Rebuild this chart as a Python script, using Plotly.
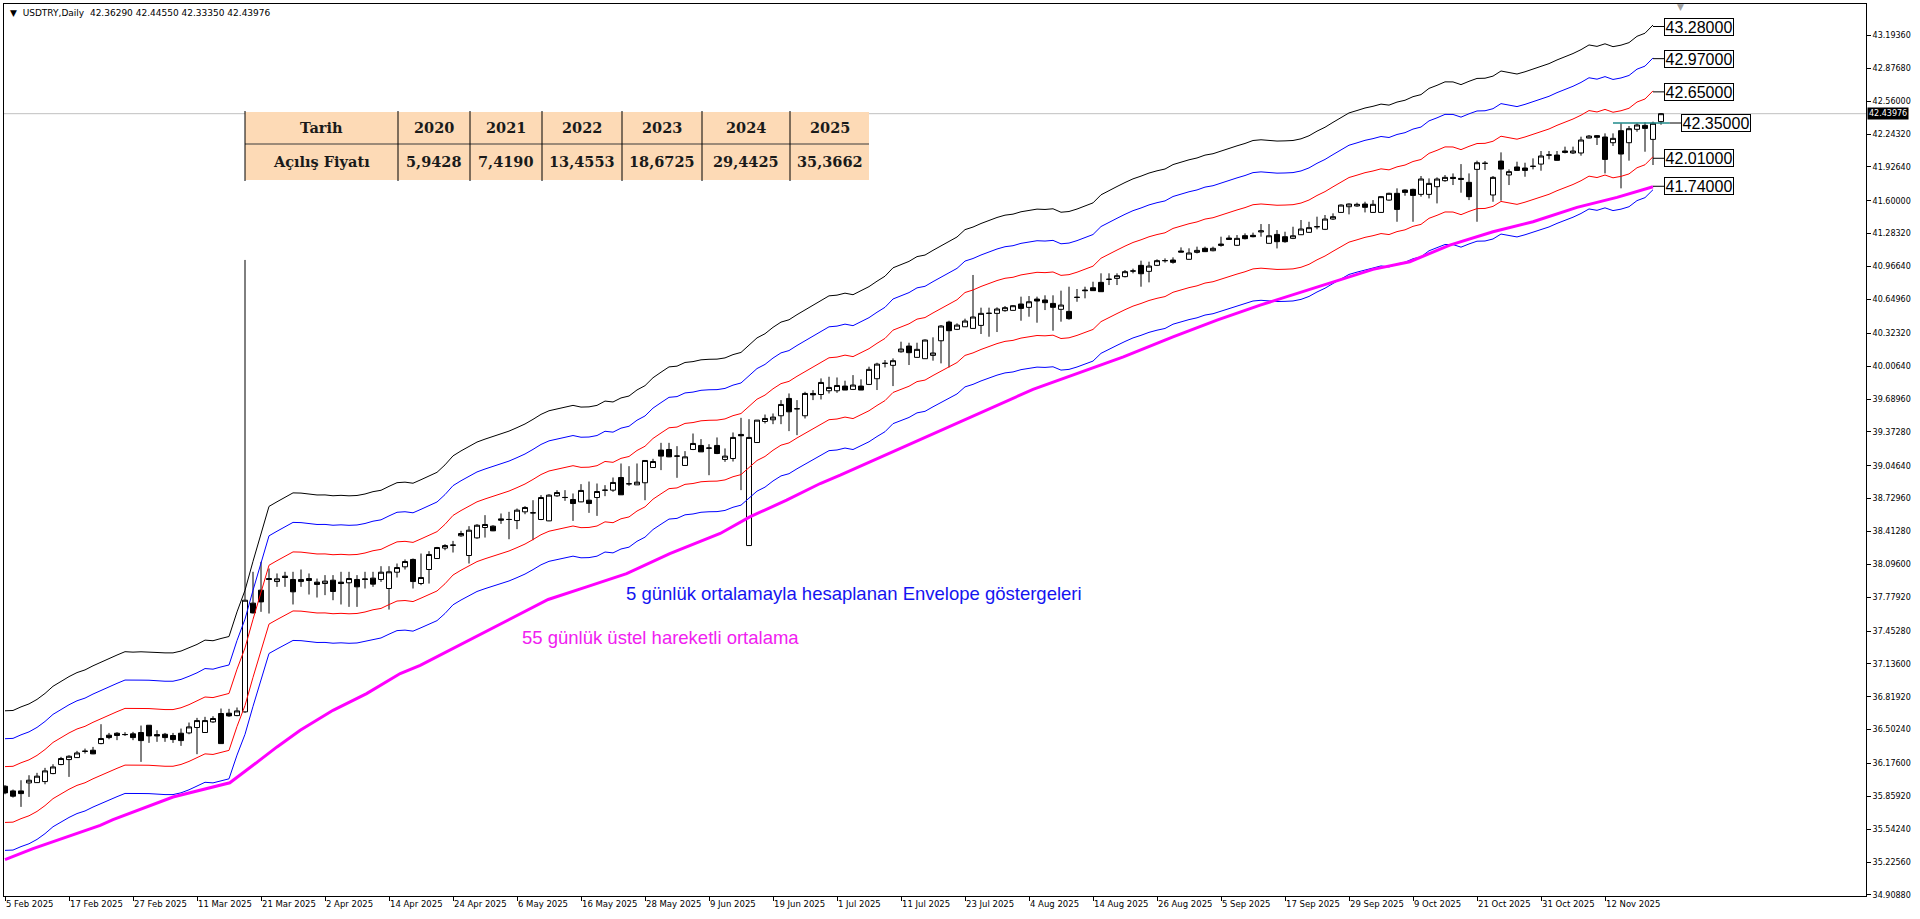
import pandas as pd
import plotly.graph_objects as go

# ---------------- data ----------------
START_DATE = "2025-02-05"

opens = [
    35.957, 35.912, 35.912, 35.989, 35.992, 36.002, 36.079, 36.166, 36.214, 36.233,
    36.292, 36.304, 36.368, 36.449, 36.468, 36.456, 36.462, 36.475, 36.545, 36.455,
    36.458, 36.446, 36.468, 36.471, 36.523, 36.475, 36.577, 36.658, 36.661, 36.638,
    36.674, 37.722, 37.847, 37.959, 37.930, 37.982, 37.950, 37.930, 37.959, 37.924,
    37.911, 37.943, 37.924, 37.918, 37.950, 37.956, 37.963, 37.950, 37.863, 38.020,
    38.072, 38.143, 37.911, 38.046, 38.152, 38.252, 38.280, 38.371, 38.181, 38.351,
    38.451, 38.464, 38.534, 38.529, 38.518, 38.602, 38.593, 38.528, 38.515, 38.756,
    38.741, 38.721, 38.698, 38.714, 38.740, 38.811, 38.811, 38.933, 38.873, 38.862,
    38.882, 39.029, 39.197, 39.203, 39.140, 39.049, 39.203, 39.242, 39.217, 39.242,
    39.107, 39.116, 39.348, 38.277, 39.270, 39.473, 39.489, 39.528, 39.695, 39.596,
    39.528, 39.743, 39.733, 39.769, 39.769, 39.814, 39.782, 39.814, 39.830, 39.885,
    40.034, 40.014, 40.145, 40.200, 40.091, 40.078, 40.110, 40.251, 40.431, 40.361,
    40.386, 40.370, 40.399, 40.516, 40.515, 40.541, 40.544, 40.605, 40.573, 40.653,
    40.644, 40.611, 40.554, 40.534, 40.670, 40.740, 40.762, 40.814, 40.844, 40.852,
    40.869, 40.924, 40.978, 40.920, 40.978, 41.024, 41.029, 41.116, 41.036, 41.103,
    41.142, 41.119, 41.183, 41.241, 41.171, 41.264, 41.267, 41.300, 41.190, 41.276,
    41.254, 41.238, 41.273, 41.296, 41.351, 41.325, 41.424, 41.488, 41.543, 41.550,
    41.569, 41.488, 41.488, 41.607, 41.672, 41.704, 41.710, 41.662, 41.662, 41.736,
    41.794, 41.826, 41.816, 41.778, 41.903, 41.962, 41.656, 41.983, 41.849, 41.926,
    41.916, 41.933, 41.954, 42.042, 42.041, 42.080, 42.061, 42.061, 42.205, 42.228,
    42.215, 42.160, 42.276, 42.160, 42.289, 42.327, 42.192, 42.3629,
]
highs = [
    35.967, 35.925, 36.015, 36.063, 36.086, 36.134, 36.169, 36.240, 36.256, 36.298,
    36.320, 36.336, 36.555, 36.471, 36.478, 36.478, 36.481, 36.542, 36.545, 36.497,
    36.471, 36.471, 36.513, 36.571, 36.616, 36.626, 36.632, 36.706, 36.703, 36.716,
    41.030, 38.024, 38.120, 38.056, 38.008, 38.024, 38.024, 38.046, 38.008, 37.959,
    37.992, 37.992, 38.024, 38.024, 37.992, 38.024, 38.024, 38.078, 38.078, 38.104,
    38.143, 38.152, 38.200, 38.223, 38.264, 38.290, 38.322, 38.419, 38.464, 38.483,
    38.570, 38.473, 38.586, 38.602, 38.634, 38.657, 38.714, 38.763, 38.772, 38.811,
    38.811, 38.779, 38.869, 38.894, 38.875, 38.859, 38.933, 39.068, 39.042, 39.068,
    39.100, 39.113, 39.267, 39.267, 39.235, 39.187, 39.357, 39.303, 39.254, 39.319,
    39.213, 39.367, 39.508, 39.495, 39.486, 39.540, 39.550, 39.679, 39.743, 39.679,
    39.759, 39.775, 39.888, 39.904, 39.897, 39.866, 39.920, 39.879, 40.001, 40.039,
    40.065, 40.081, 40.242, 40.232, 40.232, 40.264, 40.284, 40.402, 40.444, 40.419,
    40.464, 40.885, 40.570, 40.570, 40.573, 40.586, 40.595, 40.676, 40.682, 40.676,
    40.689, 40.689, 40.734, 40.772, 40.750, 40.772, 40.820, 40.901, 40.901, 40.901,
    40.933, 40.946, 41.023, 41.013, 41.036, 41.045, 41.055, 41.151, 41.142, 41.158,
    41.158, 41.158, 41.254, 41.267, 41.270, 41.286, 41.293, 41.376, 41.376, 41.318,
    41.302, 41.350, 41.415, 41.398, 41.447, 41.463, 41.479, 41.566, 41.575, 41.582,
    41.591, 41.607, 41.646, 41.678, 41.720, 41.710, 41.717, 41.839, 41.816, 41.826,
    41.848, 41.864, 41.954, 41.864, 41.987, 41.983, 41.839, 42.067, 41.903, 41.977,
    41.967, 42.009, 42.080, 42.080, 42.080, 42.122, 42.122, 42.218, 42.234, 42.234,
    42.250, 42.250, 42.347, 42.321, 42.347, 42.356, 42.363, 42.4455,
]
lows = [
    35.880, 35.848, 35.758, 35.854, 35.989, 35.976, 36.073, 36.160, 36.047, 36.230,
    36.272, 36.266, 36.362, 36.410, 36.401, 36.442, 36.401, 36.192, 36.375, 36.385,
    36.385, 36.375, 36.346, 36.458, 36.266, 36.471, 36.568, 36.368, 36.626, 36.632,
    36.664, 37.622, 37.638, 37.622, 37.879, 37.879, 37.709, 37.879, 37.805, 37.776,
    37.799, 37.750, 37.709, 37.686, 37.686, 37.863, 37.879, 37.927, 37.660, 37.969,
    38.046, 37.863, 37.895, 37.911, 38.149, 38.232, 38.210, 38.361, 38.104, 38.342,
    38.354, 38.416, 38.486, 38.338, 38.435, 38.579, 38.329, 38.522, 38.512, 38.747,
    38.708, 38.515, 38.695, 38.592, 38.563, 38.753, 38.795, 38.766, 38.853, 38.862,
    38.714, 39.026, 39.004, 39.129, 38.930, 39.046, 39.197, 39.180, 38.955, 39.158,
    39.084, 39.087, 38.811, 38.277, 39.267, 39.454, 39.447, 39.447, 39.380, 39.341,
    39.502, 39.679, 39.685, 39.743, 39.749, 39.776, 39.776, 39.776, 39.824, 39.776,
    39.994, 39.814, 40.136, 40.017, 40.088, 40.078, 40.059, 40.033, 39.994, 40.354,
    40.386, 40.370, 40.316, 40.290, 40.335, 40.531, 40.541, 40.444, 40.483, 40.425,
    40.547, 40.348, 40.435, 40.454, 40.627, 40.660, 40.734, 40.724, 40.788, 40.788,
    40.862, 40.901, 40.772, 40.814, 40.971, 41.004, 40.994, 41.106, 41.032, 41.093,
    41.106, 41.113, 41.158, 41.228, 41.164, 41.228, 41.248, 41.254, 41.190, 41.141,
    41.196, 41.231, 41.270, 41.292, 41.325, 41.318, 41.415, 41.485, 41.469, 41.543,
    41.488, 41.485, 41.485, 41.601, 41.398, 41.649, 41.398, 41.640, 41.623, 41.575,
    41.784, 41.752, 41.678, 41.607, 41.398, 41.897, 41.591, 41.601, 41.752, 41.890,
    41.832, 41.903, 41.890, 42.000, 41.987, 42.057, 42.051, 42.035, 42.202, 42.138,
    41.864, 42.128, 41.720, 41.987, 42.266, 42.073, 41.945, 42.3335,
]
closes = [
    35.893, 35.861, 35.886, 36.015, 36.054, 36.105, 36.143, 36.224, 36.246, 36.278,
    36.295, 36.269, 36.417, 36.426, 36.446, 36.455, 36.426, 36.397, 36.442, 36.442,
    36.426, 36.407, 36.397, 36.529, 36.590, 36.590, 36.610, 36.368, 36.635, 36.683,
    37.750, 37.628, 37.734, 37.950, 37.956, 37.969, 37.831, 37.950, 37.940, 37.902,
    37.934, 37.834, 37.911, 37.959, 37.879, 37.950, 37.905, 38.020, 38.024, 38.065,
    38.123, 37.930, 37.969, 38.191, 38.258, 38.277, 38.281, 38.393, 38.425, 38.473,
    38.480, 38.419, 38.522, 38.528, 38.618, 38.644, 38.592, 38.740, 38.763, 38.788,
    38.740, 38.682, 38.808, 38.682, 38.798, 38.810, 38.885, 38.766, 38.872, 38.888,
    39.097, 39.087, 39.139, 39.132, 39.139, 39.132, 39.261, 39.180, 39.216, 39.164,
    39.139, 39.319, 39.335, 39.319, 39.486, 39.502, 39.515, 39.637, 39.566, 39.595,
    39.743, 39.730, 39.849, 39.801, 39.820, 39.776, 39.824, 39.776, 39.975, 40.026,
    40.033, 40.059, 40.171, 40.136, 40.168, 40.258, 40.133, 40.393, 40.348, 40.402,
    40.441, 40.480, 40.515, 40.515, 40.557, 40.570, 40.589, 40.563, 40.627, 40.634,
    40.618, 40.573, 40.595, 40.464, 40.669, 40.734, 40.734, 40.724, 40.843, 40.878,
    40.917, 40.923, 40.897, 40.971, 41.023, 41.023, 41.007, 41.106, 41.097, 41.122,
    41.110, 41.142, 41.171, 41.228, 41.238, 41.235, 41.254, 41.310, 41.263, 41.206,
    41.206, 41.263, 41.328, 41.341, 41.350, 41.424, 41.447, 41.559, 41.569, 41.566,
    41.537, 41.566, 41.640, 41.672, 41.517, 41.681, 41.652, 41.810, 41.768, 41.810,
    41.826, 41.816, 41.807, 41.640, 41.967, 41.961, 41.826, 41.906, 41.881, 41.893,
    41.893, 41.932, 42.032, 42.041, 41.990, 42.067, 42.080, 42.186, 42.224, 42.212,
    41.999, 42.202, 42.051, 42.295, 42.331, 42.298, 42.347, 42.43976,
]

# 55-period EMA (magenta), read at points along the line: bar index / value
ema_bars = [0, 3.5, 11.9, 13.5, 21.0, 26.0, 28.1, 31.0, 34.0, 36.9, 41.0, 45.2, 49.4,
            51.9, 67.9, 72.7, 77.7, 83.1, 89.4, 93.1, 97.7, 101.9, 104.4, 128.5,
            133.5, 139.8, 146.0, 151.5, 156.9, 171.0, 175.6, 180.6, 186.0, 191.0,
            196.5, 201.5, 206.0]
ema_vals = [35.25, 35.356, 35.58, 35.635, 35.853, 35.950, 35.990, 36.159, 36.336,
            36.496, 36.689, 36.850, 37.043, 37.123, 37.757, 37.879, 38.007, 38.200,
            38.393, 38.553, 38.714, 38.875, 38.955, 39.782, 39.920, 40.096, 40.289,
            40.450, 40.595, 40.939, 41.013, 41.173, 41.302, 41.398, 41.537, 41.633,
            41.736]

# Envelope settings (MA period, shift, deviations in %)
ENV_PERIOD = 5
ENV_SHIFT = -1
env_upper_dev = [0.75, 1.5, 2.25]
env_upper_col = ["#FF0000", "#0000FF", "#000000"]
env_lower_dev = [0.75, 1.5]
env_lower_col = ["#FF0000", "#0000FF"]

tick_labels = ["5 Feb 2025", "17 Feb 2025", "27 Feb 2025", "11 Mar 2025", "21 Mar 2025",
               "2 Apr 2025", "14 Apr 2025", "24 Apr 2025", "6 May 2025", "16 May 2025",
               "28 May 2025", "9 Jun 2025", "19 Jun 2025", "1 Jul 2025", "11 Jul 2025",
               "23 Jul 2025", "4 Aug 2025", "14 Aug 2025", "26 Aug 2025", "5 Sep 2025",
               "17 Sep 2025", "29 Sep 2025", "9 Oct 2025", "21 Oct 2025", "31 Oct 2025",
               "12 Nov 2025"]
TICK_EVERY = 8

price_ticks = [34.90880, 35.22560, 35.54240, 35.85920, 36.17600, 36.50240, 36.81920,
               37.13600, 37.45280, 37.77920, 38.09600, 38.41280, 38.72960, 39.04640,
               39.37280, 39.68960, 40.00640, 40.32320, 40.64960, 40.96640, 41.28320,
               41.60000, 41.92640, 42.24320, 42.56000, 42.87680, 43.19360]

# manual price labels on the right
level_labels = ["43.28000", "42.97000", "42.65000", "42.35000", "42.01000", "41.74000"]
level_values = [43.28, 42.97, 42.65, 42.35, 42.01, 41.74]
hline_value = 42.35
last_price = 42.43976

# table
table_years = ["2020", "2021", "2022", "2023", "2024", "2025"]
table_open = ["5,9428", "7,4190", "13,4553", "18,6725", "29,4425", "35,3662"]
table_head = ["Tarih", "Açılış Fiyatı"]

title_text = "USDTRY,Daily  42.36290 42.44550 42.33350 42.43976"
note_env = "5 günlük ortalamayla hesaplanan Envelope göstergeleri"
note_ema = "55 günlük üstel hareketli ortalama"

# ---------------- figure ----------------
n = len(closes)
dates = pd.bdate_range(START_DATE, periods=n)
bars = list(range(n))
hover = [d.strftime("%d %b %Y") for d in dates]

W, H = 1920, 919
ML, MR, MT, MB = 4, 54, 4, 23
PW, PH = W - ML - MR, H - MT - MB


def px_x(px):
    return (px - ML) / PW


def px_y(py):
    return (H - MB - py) / PH


fig = go.Figure()

fig.add_trace(go.Candlestick(
    x=bars, open=opens, high=highs, low=lows, close=closes,
    increasing=dict(line=dict(color="black", width=1), fillcolor="white"),
    decreasing=dict(line=dict(color="black", width=1), fillcolor="black"),
    whiskerwidth=0, text=hover, hoverinfo="text+y", name="USDTRY",
))

ma = pd.Series(closes).rolling(ENV_PERIOD, min_periods=1).mean().shift(ENV_SHIFT)
for dev, col in zip(env_lower_dev, env_lower_col):
    fig.add_trace(go.Scatter(x=bars, y=ma * (1 - dev / 100), mode="lines",
                             line=dict(color=col, width=1), hoverinfo="skip"))
for dev, col in zip(env_upper_dev, env_upper_col):
    fig.add_trace(go.Scatter(x=bars, y=ma * (1 + dev / 100), mode="lines",
                             line=dict(color=col, width=1), hoverinfo="skip"))

fig.add_trace(go.Scatter(x=ema_bars, y=ema_vals, mode="lines",
                         line=dict(color="#FF00FF", width=3), hoverinfo="skip"))

# horizontal level line (teal) near the last bars
fig.add_trace(go.Scatter(x=[201, 208.1], y=[hline_value, hline_value], mode="lines",
                         line=dict(color="#1F8A8A", width=1.3), hoverinfo="skip"))

shapes = []
annotations = []

# bid line
shapes.append(dict(type="line", xref="paper", yref="y", x0=0, x1=1,
                   y0=last_price, y1=last_price, line=dict(color="#C0C0C0", width=1),
                   layer="below"))

# level label boxes + connectors
last_line_bar = n - 2
for lab, val in zip(level_labels, level_values):
    if val == hline_value:
        x_start, x_box = 208.1, 209.5
    else:
        x_start, x_box = last_line_bar, 207.4
    shapes.append(dict(type="line", xref="x", yref="y", x0=x_start, x1=x_box,
                       y0=val, y1=val, line=dict(color="black", width=1)))
    annotations.append(dict(x=x_box, y=val, xref="x", yref="y", xanchor="left",
                            yanchor="middle", text=lab, showarrow=False,
                            font=dict(family="Liberation Sans, Arial", size=16, color="black"),
                            bgcolor="white", bordercolor="black", borderwidth=1,
                            borderpad=0, width=68, height=16))

# current price tag on the axis
annotations.append(dict(x=1, y=last_price, xref="paper", yref="y", xanchor="left",
                        yanchor="middle", text=f"{last_price:.5f}", showarrow=False,
                        xshift=1, font=dict(family="DejaVu Sans", size=8, color="white"),
                        bgcolor="black", borderpad=1))

# title
annotations.append(dict(x=px_x(8), y=px_y(13), xref="paper", yref="paper",
                        xanchor="left", yanchor="middle", showarrow=False,
                        text="▼  " + title_text,
                        font=dict(family="DejaVu Sans", size=9, color="black")))
# chart shift marker
annotations.append(dict(x=px_x(1680), y=px_y(7), xref="paper", yref="paper",
                        xanchor="center", yanchor="middle", showarrow=False, text="▼",
                        font=dict(family="DejaVu Sans", size=9, color="#A0A0A0")))

# notes
annotations.append(dict(x=77.4, y=37.818, xref="x", yref="y", xanchor="left",
                        yanchor="middle", showarrow=False, text=note_env,
                        font=dict(family="Liberation Sans, Arial", size=18.5, color="#1414F0")))
annotations.append(dict(x=64.4, y=37.393, xref="x", yref="y", xanchor="left",
                        yanchor="middle", showarrow=False, text=note_ema,
                        font=dict(family="Liberation Sans, Arial", size=18.5, color="#F020F0")))

# table
col_edges = [245, 398, 470, 542, 622, 702, 790, 869]
row_top, row_mid, row_bot = 112, 144, 180
shapes.append(dict(type="rect", xref="paper", yref="paper",
                   x0=px_x(col_edges[0]), x1=px_x(col_edges[-1]),
                   y0=px_y(row_bot), y1=px_y(row_top),
                   fillcolor="#FDDAB6", line=dict(width=0), layer="above"))
shapes.append(dict(type="line", xref="paper", yref="paper",
                   x0=px_x(col_edges[0]), x1=px_x(col_edges[-1]),
                   y0=px_y(row_mid), y1=px_y(row_mid),
                   line=dict(color="#3A3A3A", width=1), layer="above"))
for ce in col_edges[:-1]:
    shapes.append(dict(type="line", xref="paper", yref="paper",
                       x0=px_x(ce), x1=px_x(ce), y0=px_y(row_bot + 1), y1=px_y(row_top - 1),
                       line=dict(color="black", width=1), layer="above"))
row_cy = [(row_top + row_mid) / 2, (row_mid + row_bot) / 2]
tfont = dict(family="DejaVu Serif", size=14.5, color="#1A1A1A")
for r, head in enumerate(table_head):
    annotations.append(dict(x=px_x((col_edges[0] + col_edges[1]) / 2), y=px_y(row_cy[r]),
                            xref="paper", yref="paper", xanchor="center", yanchor="middle",
                            showarrow=False, text="<b>" + head + "</b>", font=tfont))
for c in range(len(table_years)):
    cx = (col_edges[c + 1] + col_edges[c + 2]) / 2
    annotations.append(dict(x=px_x(cx), y=px_y(row_cy[0] - 1), xref="paper", yref="paper",
                            xanchor="center", yanchor="middle", showarrow=False,
                            text="<b>" + table_years[c] + "</b>", font=tfont))
    annotations.append(dict(x=px_x(cx), y=px_y(row_cy[1]), xref="paper", yref="paper",
                            xanchor="center", yanchor="middle", showarrow=False,
                            text="<b>" + table_open[c] + "</b>", font=tfont))

fig.update_layout(
    width=W, height=H,
    margin=dict(l=ML, r=MR, t=MT, b=MB, pad=0),
    paper_bgcolor="white", plot_bgcolor="white",
    showlegend=False, boxgap=0.375, boxgroupgap=0,
    shapes=shapes, annotations=annotations,
    hovermode="closest",
)
fig.update_xaxes(
    range=[-0.125, (W - MR - ML) / 8 - 0.125],
    tickmode="array", tickvals=list(range(0, TICK_EVERY * len(tick_labels), TICK_EVERY)),
    ticktext=tick_labels, ticks="outside", ticklen=4, tickcolor="black",
    ticklabelposition="outside right", tickangle=0,
    tickfont=dict(family="DejaVu Sans", size=8.5, color="black"),
    showline=True, linecolor="black", linewidth=1, mirror=True,
    showgrid=False, zeroline=False, rangeslider=dict(visible=False),
)
fig.update_yaxes(
    side="right", range=[34.899, 43.497],
    tickmode="array", tickvals=price_ticks, ticktext=[f"{v:.5f}" for v in price_ticks],
    ticks="outside", ticklen=4, tickcolor="black",
    tickfont=dict(family="DejaVu Sans", size=8, color="black"),
    showline=True, linecolor="black", linewidth=1, mirror=True,
    showgrid=False, zeroline=False,
)

fig.write_html("out.html", config={"displayModeBar": False},
               post_script="document.body.style.margin='0';document.body.style.overflow='hidden';")
